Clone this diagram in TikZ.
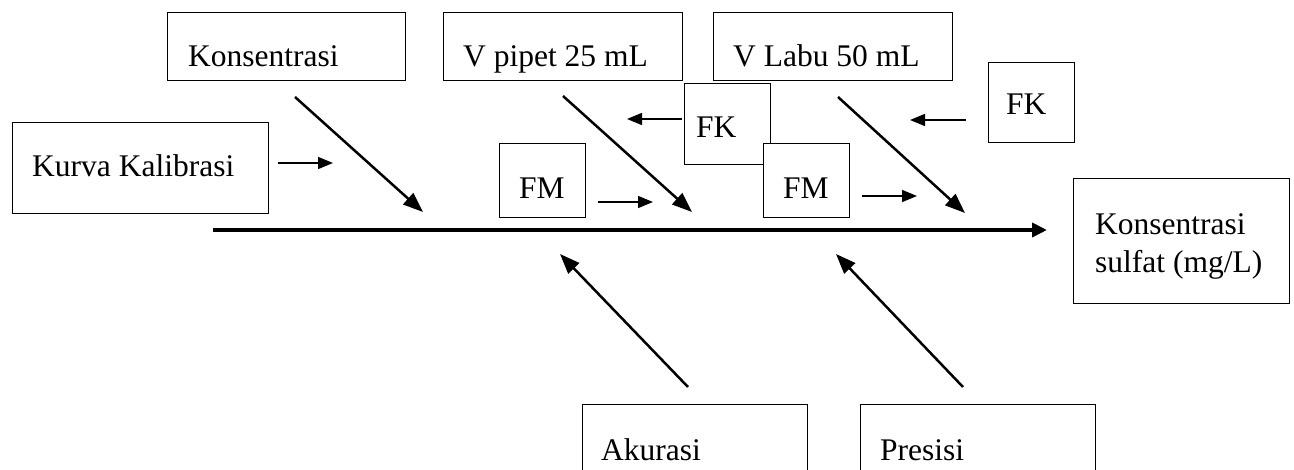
\documentclass[tikz,border=0pt]{standalone}
\usepackage{fontspec}
\setmainfont{Liberation Serif}
\usetikzlibrary{arrows.meta}
\begin{document}
\begin{tikzpicture}[x=1pt,y=-1pt,
  box/.style={draw,line width=1.1pt,inner sep=0pt,anchor=north west},
  lbl/.style={anchor=base west,inner sep=0pt,font=\fontsize{31.5}{37}\selectfont},
  diag/.style={line width=2.5pt,-{Triangle[length=20pt,width=15pt]}},
  small/.style={line width=1.5pt,-{Triangle[length=15pt,width=12pt]}},
  spine/.style={line width=4pt,-{Triangle[length=15pt,width=14pt]}}]
\useasboundingbox (0,0) rectangle (1294,470);
\clip (0,0) rectangle (1294,470);
% boxes
\node[box,minimum width=238pt,minimum height=68pt] (kons) at (167,12) {};
\node[lbl] (konsT) at (188,67) {Konsentrasi};
\node[box,minimum width=256pt,minimum height=91pt] (kurva) at (12,122) {};
\node[lbl] (kurvaT) at (32,177) {Kurva Kalibrasi};
\node[box,minimum width=239pt,minimum height=68pt] (pipet) at (443,12) {};
\node[lbl] (pipetT) at (463,67) {V pipet 25 mL};
\node[box,minimum width=239pt,minimum height=68pt] (labu) at (713,12) {};
\node[lbl] (labuT) at (733,67) {V Labu 50 mL};
\node[box,minimum width=86pt,minimum height=81pt,fill=white] (fka) at (684,83) {};
\node[lbl] (fkaT) at (696,138) {FK};
\node[box,minimum width=86pt,minimum height=80pt] (fkb) at (988,62) {};
\node[lbl] (fkbT) at (1006,115) {FK};
\node[box,minimum width=86pt,minimum height=74pt] (fma) at (499,143) {};
\node[lbl] (fmaT) at (519,199) {FM};
\node[box,minimum width=86pt,minimum height=74pt,fill=white] (fmb) at (763,143) {};
\node[lbl] (fmbT) at (783,199) {FM};
\node[box,minimum width=216pt,minimum height=125pt] (res) at (1073,178) {};
\node[lbl] (resT1) at (1095,235) {Konsentrasi};
\node[lbl] (resT2) at (1095,273) {sulfat (mg/L)};
\node[box,minimum width=225pt,minimum height=90pt] (aku) at (582,404) {};
\node[lbl] (akuT) at (601,460) {Akurasi};
\node[box,minimum width=235pt,minimum height=90pt] (pre) at (860,404) {};
\node[lbl] (preT) at (880,460) {Presisi};
% coordinates
\coordinate (s0) at (213,230);
\coordinate (s1) at (1047,230);
\coordinate (d1a) at (295,97);  \coordinate (d1b) at (423,212);
\coordinate (d2a) at (563,96);  \coordinate (d2b) at (692,212);
\coordinate (d3a) at (838,97);  \coordinate (d3b) at (965,213);
\coordinate (d4a) at (688,387); \coordinate (d4b) at (560,254);
\coordinate (d5a) at (963,387); \coordinate (d5b) at (836,254);
\coordinate (k1a) at (278,163); \coordinate (k1b) at (333,163);
\coordinate (f1a) at (598,202); \coordinate (f1b) at (653,202);
\coordinate (f2a) at (862,196); \coordinate (f2b) at (917,196);
\coordinate (g1a) at (682,119); \coordinate (g1b) at (627,119);
\coordinate (g2a) at (966,120); \coordinate (g2b) at (910,120);
% connectors
\draw[spine] (s0) -- (s1);
\draw[diag] (d1a) -- (d1b);
\draw[diag] (d2a) -- (d2b);
\draw[diag] (d3a) -- (d3b);
\draw[diag] (d4a) -- (d4b);
\draw[diag] (d5a) -- (d5b);
\draw[small] (k1a) -- (k1b);
\draw[small] (f1a) -- (f1b);
\draw[small] (f2a) -- (f2b);
\draw[small] (g1a) -- (g1b);
\draw[small] (g2a) -- (g2b);
\end{tikzpicture}
\end{document}
